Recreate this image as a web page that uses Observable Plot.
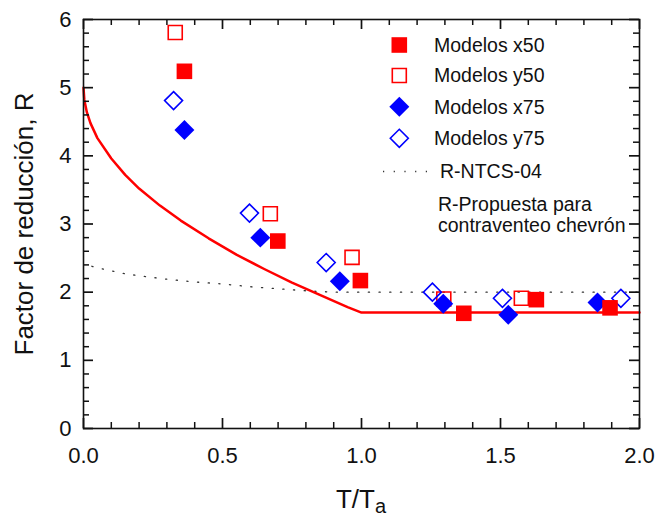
<!DOCTYPE html>
<html><head><meta charset="utf-8">
<script src="https://cdn.jsdelivr.net/npm/d3@7"></script>
<script src="https://cdn.jsdelivr.net/npm/@observablehq/plot@0.6"></script>
<style>body{margin:0;background:#fff}</style>
</head><body><div id="chart"></div>
<script>
// ---- data ----
const x50T = [0.363, 0.699, 0.996, 1.368, 1.629, 1.894];
const x50R = [5.24, 2.75, 2.17, 1.69, 1.89, 1.77];
const y50T = [0.330, 0.672, 0.966, 1.296, 1.575];
const y50R = [5.81, 3.15, 2.51, 1.90, 1.91];
const x75T = [0.363, 0.636, 0.922, 1.294, 1.528, 1.849];
const x75R = [4.38, 2.80, 2.16, 1.83, 1.67, 1.85];
const y75T = [0.324, 0.597, 0.873, 1.255, 1.507, 1.933];
const y75R = [4.81, 3.16, 2.435, 2.00, 1.91, 1.91];
// R-Propuesta (red line)
const propT = [0, 0.003, 0.012, 0.025, 0.05, 0.1, 0.15, 0.2, 0.275, 0.35, 0.45, 0.55, 0.65, 0.75, 0.85, 0.95, 1.0, 2.0];
const propR = [5.0, 4.82, 4.64, 4.48, 4.26, 3.96, 3.72, 3.52, 3.27, 3.05, 2.79, 2.55, 2.34, 2.14, 1.96, 1.78, 1.70, 1.70];
// R-NTCS-04 (dotted line)
const ntcsT = [0.03, 0.08, 0.15, 0.2, 0.3, 0.4, 0.5, 0.6, 0.7, 0.8, 0.9, 2.0];
const ntcsR = [2.38, 2.33, 2.27, 2.24, 2.19, 2.15, 2.12, 2.08, 2.05, 2.02, 2.0, 2.0];
// ticks
const xMajor = [0, 0.5, 1.0, 1.5, 2.0];
const xMinor = [0.1, 0.2, 0.3, 0.4, 0.6, 0.7, 0.8, 0.9, 1.1, 1.2, 1.3, 1.4, 1.6, 1.7, 1.8, 1.9];
const yMajor = [0, 1, 2, 3, 4, 5, 6];
const yMinor = [0.2, 0.4, 0.6, 0.8, 1.2, 1.4, 1.6, 1.8, 2.2, 2.4, 2.6, 2.8, 3.2, 3.4, 3.6, 3.8, 4.2, 4.4, 4.6, 4.8, 5.2, 5.4, 5.6, 5.8];
const legendLabels = ["Modelos x50", "Modelos y50", "Modelos x75", "Modelos y75", "R-NTCS-04"];
const legendNote = ["R-Propuesta para", "contraventeo chevrón"];
const xTitle = ["T/T", "a"];
const yTitle = "Factor de reducción, R";

const zip = (a, b) => a.map((v, i) => ({T: v, R: b[i]}));
const font = "Arial, 'Liberation Sans', Helvetica, sans-serif";
const RED = "#ff0000", BLUE = "#0000ff";
const INK = "#111";

const W = 656, H = 518, ML = 83, MR = 17, MT = 19, MB = 90;
const innerW = W - ML - MR, innerH = H - MT - MB;

// inward ticks: full-frame tick marks shortened by insets
const xTicks = (data, side, len, sw) => Plot.tickX(data, {
  x: d => d, stroke: INK, strokeWidth: sw,
  ...(side === "bottom" ? {insetTop: innerH - len} : {insetBottom: innerH - len})
});
const yTicks = (data, side, len, sw) => Plot.tickY(data, {
  y: d => d, stroke: INK, strokeWidth: sw,
  ...(side === "left" ? {insetRight: innerW - len} : {insetLeft: innerW - len})
});

const plot = Plot.plot({
  width: W, height: H,
  marginLeft: ML, marginRight: MR, marginTop: MT, marginBottom: MB,
  x: {domain: [0, 2]},
  y: {domain: [0, 6]},
  style: {fontFamily: font, background: "white", color: INK},
  marks: [
    Plot.line(zip(ntcsT, ntcsR), {x: "T", y: "R", stroke: "#333", strokeWidth: 1.3, strokeDasharray: "1.2,9.5"}),
    Plot.line(zip(propT, propR), {x: "T", y: "R", stroke: RED, strokeWidth: 2.5}),
    Plot.dot(zip(y50T, y50R), {x: "T", y: "R", symbol: "square", r: 7.9, stroke: RED, strokeWidth: 1.6, fill: "none"}),
    Plot.dot(zip(y75T, y75R), {x: "T", y: "R", symbol: "diamond2", r: 8.1, stroke: BLUE, strokeWidth: 1.6, fill: "none"}),
    Plot.dot(zip(x75T, x75R), {x: "T", y: "R", symbol: "diamond2", r: 9, fill: BLUE, stroke: "none"}),
    Plot.dot(zip(x50T, x50R), {x: "T", y: "R", symbol: "square", r: 8.8, fill: RED, stroke: "none"}),
    // inward ticks on all four sides
    xTicks(xMajor, "bottom", 10, 1.7), xTicks(xMinor, "bottom", 6, 1.5),
    xTicks(xMajor, "top", 10, 1.7), xTicks(xMinor, "top", 6, 1.5),
    yTicks(yMajor, "left", 10, 1.7), yTicks(yMinor, "left", 6, 1.5),
    yTicks(yMajor, "right", 10, 1.7), yTicks(yMinor, "right", 6, 1.5),
    // tick labels
    Plot.axisX(xMajor, {anchor: "bottom", tickSize: 0, tickPadding: 19, tickFormat: d3.format(".1f"), label: null, fontSize: 22, fill: INK}),
    Plot.axisY(yMajor, {anchor: "left", tickSize: 0, tickPadding: 12, tickFormat: d3.format("d"), label: null, fontSize: 22, fill: INK}),
    Plot.frame({stroke: INK, strokeWidth: 1.6})
  ]
});
document.getElementById("chart").appendChild(plot);

const svg = d3.select(plot);
// axis titles
svg.append("text")
  .attr("transform", "translate(33,224) rotate(-90)")
  .attr("text-anchor", "middle")
  .attr("font-family", font).attr("font-size", 26).attr("fill", INK)
  .text(yTitle);
const xt = svg.append("text")
  .attr("x", 361).attr("y", 508)
  .attr("text-anchor", "middle")
  .attr("font-family", font).attr("font-size", 26).attr("fill", INK);
xt.append("tspan").text(xTitle[0]);
xt.append("tspan").attr("font-size", 20).attr("dy", 5).text(xTitle[1]);

// legend (inside plot, top right)
const lg = svg.append("g").attr("font-family", font).attr("font-size", 19.5)
  .attr("fill", INK).attr("text-anchor", "start");
const rowsY = [45, 75.5, 106.7, 138.3, 171.5];
const sq = (r) => r * r * Math.PI;
const legendSym = [
  {type: d3.symbolSquare, size: sq(8.8), fill: RED, stroke: "none"},
  {type: d3.symbolSquare, size: sq(7.9), fill: "none", stroke: RED},
  {type: d3.symbolDiamond2, size: sq(9), fill: BLUE, stroke: "none"},
  {type: d3.symbolDiamond2, size: sq(8.1), fill: "none", stroke: BLUE}
];
legendSym.forEach((s, i) => {
  lg.append("path")
    .attr("d", d3.symbol(s.type, s.size)())
    .attr("transform", `translate(399.3,${rowsY[i]})`)
    .attr("fill", s.fill).attr("stroke", s.stroke).attr("stroke-width", 1.6);
  lg.append("text").attr("x", 434).attr("y", rowsY[i] + 6.8).text(legendLabels[i]);
});
lg.append("line").attr("x1", 383).attr("x2", 428).attr("y1", rowsY[4]).attr("y2", rowsY[4])
  .attr("stroke", "#333").attr("stroke-width", 1.3).attr("stroke-dasharray", "1.2,9.5");
lg.append("text").attr("x", 440).attr("y", rowsY[4] + 6.8).text(legendLabels[4]);
lg.append("text").attr("x", 438).attr("y", 210.7).text(legendNote[0]);
lg.append("text").attr("x", 438).attr("y", 231.7).text(legendNote[1]);
</script>
</body></html>
